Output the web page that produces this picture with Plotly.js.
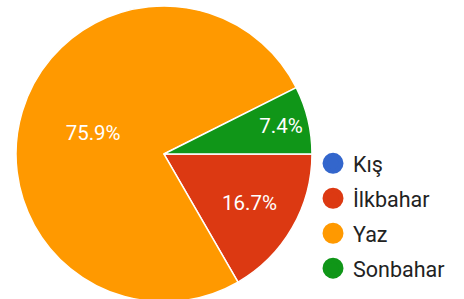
<!DOCTYPE html>
<html><head><meta charset="utf-8">
<script src="https://cdn.plot.ly/plotly-3.0.1.min.js"></script>
<style>html,body{margin:0;padding:0;overflow:hidden;background:#fff;}</style>
</head><body>
<div id="chart" style="width:464px;height:302px;"></div>
<script>
const categories = ["Kış", "İlkbahar", "Yaz", "Sonbahar"];
const counts = [0, 9, 41, 4];
const colors = ["#3366cc", "#dc3912", "#ff9900", "#109618"];

const pie = {
  type: "pie",
  labels: categories,
  values: counts,
  marker: {colors: colors, line: {color: "#ffffff", width: 1.5}},
  sort: false,
  direction: "clockwise",
  rotation: 90,
  texttemplate: "%{percent:.1%}",
  textposition: "inside",
  insidetextorientation: "horizontal",
  insidetextfont: {family: "Roboto, Arial, sans-serif", size: 20.5, color: "#ffffff"},
  showlegend: false,
  hoverinfo: "label+percent",
  domain: {x: [0.0345, 0.6724], y: [0, 1]}
};

const legendTraces = categories.map((c, i) => ({
  type: "scatter",
  mode: "markers",
  x: [null], y: [null],
  name: c,
  legendgroup: "g" + i,
  marker: {color: colors[i], size: 16, line: {color: colors[i], width: 5}},
  showlegend: true,
  hoverinfo: "skip"
}));

const layout = {
  width: 464, height: 302,
  margin: {l: 0, r: 0, t: 6, b: 0, autoexpand: false},
  paper_bgcolor: "#ffffff",
  plot_bgcolor: "#ffffff",
  xaxis: {visible: false},
  yaxis: {visible: false},
  showlegend: true,
  legend: {
    x: 0.6746, xanchor: "left",
    y: 0.5376, yanchor: "top",
    font: {family: "Roboto, Arial, sans-serif", size: 21.5, color: "#222222"},
    tracegroupgap: 4,
    itemsizing: "trace",
    bgcolor: "rgba(0,0,0,0)"
  }
};

Plotly.newPlot("chart", [pie].concat(legendTraces), layout, {displayModeBar: false, staticPlot: true});
</script>
</body></html>
